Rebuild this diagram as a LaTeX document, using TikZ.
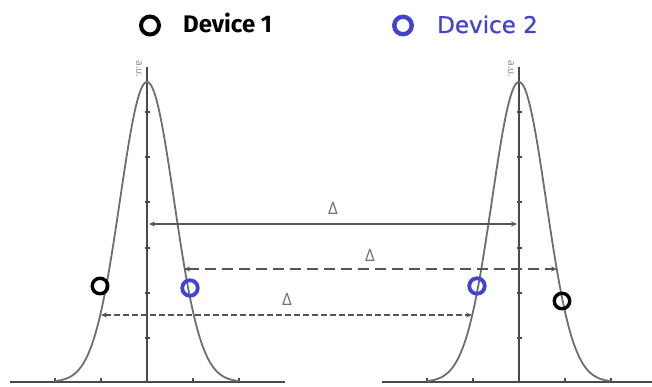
\documentclass[tikz,border=0pt]{standalone}
\usepackage{fontspec}
\setmainfont{Open Sans}
\newfontfamily\devonefont{Fira Sans}
\newfontfamily\devtwofont[FakeBold=0.8]{DejaVu Sans}
\usetikzlibrary{arrows.meta}
\definecolor{curvegray}{HTML}{6E6E6E}
\definecolor{axisgray}{HTML}{4A4A4A}
\definecolor{arrowgray}{HTML}{555555}
\definecolor{labelgray}{HTML}{707070}
\definecolor{devblue}{HTML}{4343D0}
\tikzset{
  curve/.style={draw=curvegray, line width=1.8pt},
  axisline/.style={draw=axisgray, line width=1.6pt},
  tickline/.style={draw=axisgray, line width=1.1pt},
  deltaarrow/.style={draw=arrowgray, line width=1.6pt, {Stealth[length=6pt,width=5pt]}-{Stealth[length=6pt,width=5pt]}},
  longdash/.style={dash pattern=on 11pt off 6pt},
  shortdash/.style={dash pattern=on 6pt off 3pt},
  deltalabel/.style={text=labelgray, font=\fontsize{17}{17}\selectfont, inner sep=0pt},
  ringblack/.style={circle, draw=black, line width=3.4pt, minimum size=15.5pt, inner sep=0pt},
  ringblue/.style={circle, draw=devblue, line width=3.8pt, minimum size=15.5pt, inner sep=0pt},
  legblackring/.style={ringblack, line width=4pt, minimum size=18pt},
  legbluering/.style={ringblue, line width=4.4pt, minimum size=17.5pt},
  aulabel/.style={rotate=-90, text=gray, font=\fontsize{10}{10}\selectfont, inner sep=0pt},
}
\begin{document}
\begin{tikzpicture}[x=1pt, y=-1pt]
\useasboundingbox (0,0) rectangle (652,387);
% legend
\node[legblackring] (legblack) at (150,25.5) {};
\node[anchor=base west, inner sep=0pt, font=\fontsize{24}{24}\devonefont\bfseries] (legone) at (183,33) {Device 1};
\node[legbluering] (legblue) at (403,25.5) {};
\node[anchor=base west, inner sep=0pt, text=devblue, font=\fontsize{23}{23}\devtwofont] (legtwo) at (437,33) {Device 2};
% distributions
\foreach \cx/\xa/\xb in {147/10/285, 519/382/652} {
  \draw[axisline] (\xa,382) -- (\xb,382);
  \draw[axisline] (\cx,67) -- (\cx,382);
  \foreach \t in {-92,-46,46,92} \draw[tickline] (\cx+\t,382) -- (\cx+\t,378);
  \foreach \yy in {112,157,202,248,293,338} \draw[tickline] (\cx-2.5,\yy) -- (\cx+2.5,\yy);
  \draw[curve] plot[domain=-92:92, samples=120, smooth] ({\cx+\x},{382-300*exp(-(\x*\x)/1458)});
}
\node[aulabel] (auleft) at (139,69) {a.u.};
\node[aulabel] (auright) at (511,69) {a.u.};
% arrow endpoints
\coordinate (s1) at (149,224);
\coordinate (e1) at (517,224);
\coordinate (s2) at (184,269);
\coordinate (e2) at (557,269);
\coordinate (s3) at (101,315);
\coordinate (e3) at (472,315);
\draw[deltaarrow] (s1) -- (e1);
\draw[deltaarrow, longdash] (s2) -- (e2);
\draw[deltaarrow, shortdash] (s3) -- (e3);
\node[deltalabel] (d1) at (333,208.5) {Δ};
\node[deltalabel] (d2) at (370,255) {Δ};
\node[deltalabel] (d3) at (287,299) {Δ};
% device points
\node[ringblack] (p1a) at (100,286) {};
\node[ringblue] (p2a) at (190,288) {};
\node[ringblue] (p2b) at (477,286) {};
\node[ringblack] (p1b) at (562,301) {};
\end{tikzpicture}
\end{document}
